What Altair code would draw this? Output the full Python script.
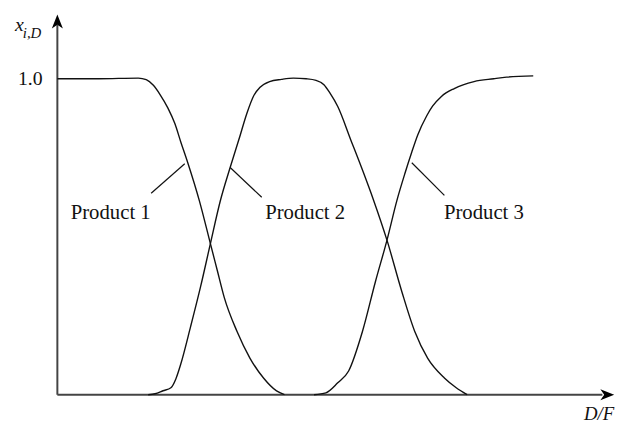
import altair as alt
import pandas as pd

# Curve data (x = D/F in arbitrary units, y = x_i,D)
p1_x = [0.00, 0.42, 0.82, 0.90, 0.97, 1.04, 1.12, 1.19, 1.25, 1.32, 1.44, 1.55, 1.62, 1.69, 1.82, 1.95, 2.09, 2.22, 2.30]
p1_y = [1.000, 1.000, 1.002, 0.997, 0.980, 0.950, 0.907, 0.858, 0.800, 0.735, 0.612, 0.478, 0.393, 0.308, 0.200, 0.116, 0.052, 0.012, 0.000]

p2_x = [0.92, 0.99, 1.07, 1.15, 1.20, 1.25, 1.35, 1.45, 1.55, 1.65, 1.75, 1.84, 1.92, 1.99, 2.05, 2.15, 2.27,
        2.39, 2.52, 2.62, 2.70, 2.76, 2.84, 2.97, 3.10, 3.20, 3.34, 3.49, 3.62, 3.75, 3.92, 4.04, 4.15]
p2_y = [0.000, 0.003, 0.0125, 0.022, 0.050, 0.097, 0.216, 0.341, 0.478, 0.613, 0.719, 0.809, 0.891, 0.947, 0.972, 0.991, 0.998,
        1.002, 1.000, 0.995, 0.981, 0.955, 0.912, 0.808, 0.703, 0.618, 0.4875, 0.325, 0.200, 0.116, 0.053, 0.022, 0.000]

p3_x = [2.60, 2.72, 2.84, 2.95, 3.09, 3.22, 3.34, 3.44, 3.52, 3.59, 3.65, 3.74, 3.80, 3.89, 4.02, 4.22, 4.42, 4.55, 4.82]
p3_y = [0.000, 0.006, 0.0375, 0.075, 0.200, 0.356, 0.491, 0.616, 0.700, 0.768, 0.822, 0.882, 0.913, 0.944, 0.969, 0.991, 1.000, 1.005, 1.009]

products = ["Product 1", "Product 2", "Product 3"]
label_x = [0.54, 2.51, 4.32]
label_y = [0.575, 0.575, 0.575]
lead_x = [0.95, 1.75, 3.59]
lead_x2 = [1.29, 2.07, 3.92]
lead_y = [0.6375, 0.719, 0.734]
lead_y2 = [0.731, 0.625, 0.631]

X_MAX = 5.64
Y_MAX = 1.203

rows = []
for name, xs_, ys_ in zip(products, [p1_x, p2_x, p3_x], [p1_y, p2_y, p3_y]):
    for i, (a, b) in enumerate(zip(xs_, ys_)):
        rows.append({"product": name, "x": a, "y": b, "order": i})
curves = pd.DataFrame(rows)

labels = pd.DataFrame({"product": products, "x": label_x, "y": label_y})
leaders = pd.DataFrame({"x": lead_x, "x2": lead_x2, "y": lead_y, "y2": lead_y2})

xs = alt.Scale(domain=[0, X_MAX], nice=False, zero=False)
ys = alt.Scale(domain=[0, Y_MAX], nice=False, zero=False)

FONT = "Liberation Serif"


def X(f="x"):
    return alt.X(f + ":Q", scale=xs, axis=None)


def Y(f="y"):
    return alt.Y(f + ":Q", scale=ys, axis=None)


lines = alt.Chart(curves).mark_line(interpolate="monotone", color="#111111", strokeWidth=1.4).encode(
    x=X(), y=Y(), detail="product:N", order="order:Q",
)

lead = alt.Chart(leaders).mark_rule(color="#111111", strokeWidth=1.2).encode(
    x=X(), x2="x2:Q", y=Y(), y2="y2:Q"
)

text = alt.Chart(labels).mark_text(font=FONT, fontSize=21, color="#111111", align="center", baseline="middle").encode(
    x=X(), y=Y(), text="product:N"
)

axes_df = pd.DataFrame({"x": [0.0, 0.0], "x2": [5.52, 0.0], "y": [0.0, 0.0], "y2": [0.0, 1.17]})
axes = alt.Chart(axes_df).mark_rule(color="#444444", strokeWidth=2).encode(
    x=X(), x2="x2:Q", y=Y(), y2="y2:Q"
)

arrow_x = alt.Chart(pd.DataFrame({"x": [5.57], "y": [0.0]})).mark_point(
    shape="M1,0L-1,-0.8L-0.45,0L-1,0.8Z", size=196, filled=True, color="#000000", opacity=1
).encode(x=X(), y=Y())

arrow_y = alt.Chart(pd.DataFrame({"x": [0.0], "y": [1.181]})).mark_point(
    shape="M0,-1L-0.8,1L0,0.45L0.8,1Z", size=196, filled=True, color="#000000", opacity=1
).encode(x=X(), y=Y())

one_df = pd.DataFrame({"x": [-0.15], "y": [1.0], "t": ["1.0"]})
main_df = pd.DataFrame({"x": [-0.43], "y": [1.171], "t": ["x"]})
sub_df = pd.DataFrame({"x": [-0.35], "y": [1.145], "t": ["i,D"]})
df_df = pd.DataFrame({"x": [5.64], "y": [-0.062], "t": ["D/F"]})

t_one = alt.Chart(one_df).mark_text(font=FONT, fontSize=20, align="right",
                                    baseline="middle", color="#111111").encode(x=X(), y=Y(), text="t:N")
t_main = alt.Chart(main_df).mark_text(font=FONT, fontSize=20, fontStyle="italic", align="left",
                                      baseline="middle", color="#111111").encode(x=X(), y=Y(), text="t:N")
t_sub = alt.Chart(sub_df).mark_text(font=FONT, fontSize=15, fontStyle="italic", align="left",
                                    baseline="middle", color="#111111").encode(x=X(), y=Y(), text="t:N")
t_df = alt.Chart(df_df).mark_text(font=FONT, fontSize=19, fontStyle="italic", align="right",
                                  baseline="middle", color="#111111").encode(x=X(), y=Y(), text="t:N")

chart = alt.layer(axes, arrow_x, arrow_y, lines, lead, text, t_one, t_main, t_sub, t_df).properties(
    width=564, height=385,
    background="white",
    autosize=alt.AutoSizeParams(type="none"),
    padding={"left": 50, "top": 4, "right": 16, "bottom": 26},
).configure_view(strokeWidth=0)

chart.save("out.html", embed_options={"renderer": "svg", "actions": False})
